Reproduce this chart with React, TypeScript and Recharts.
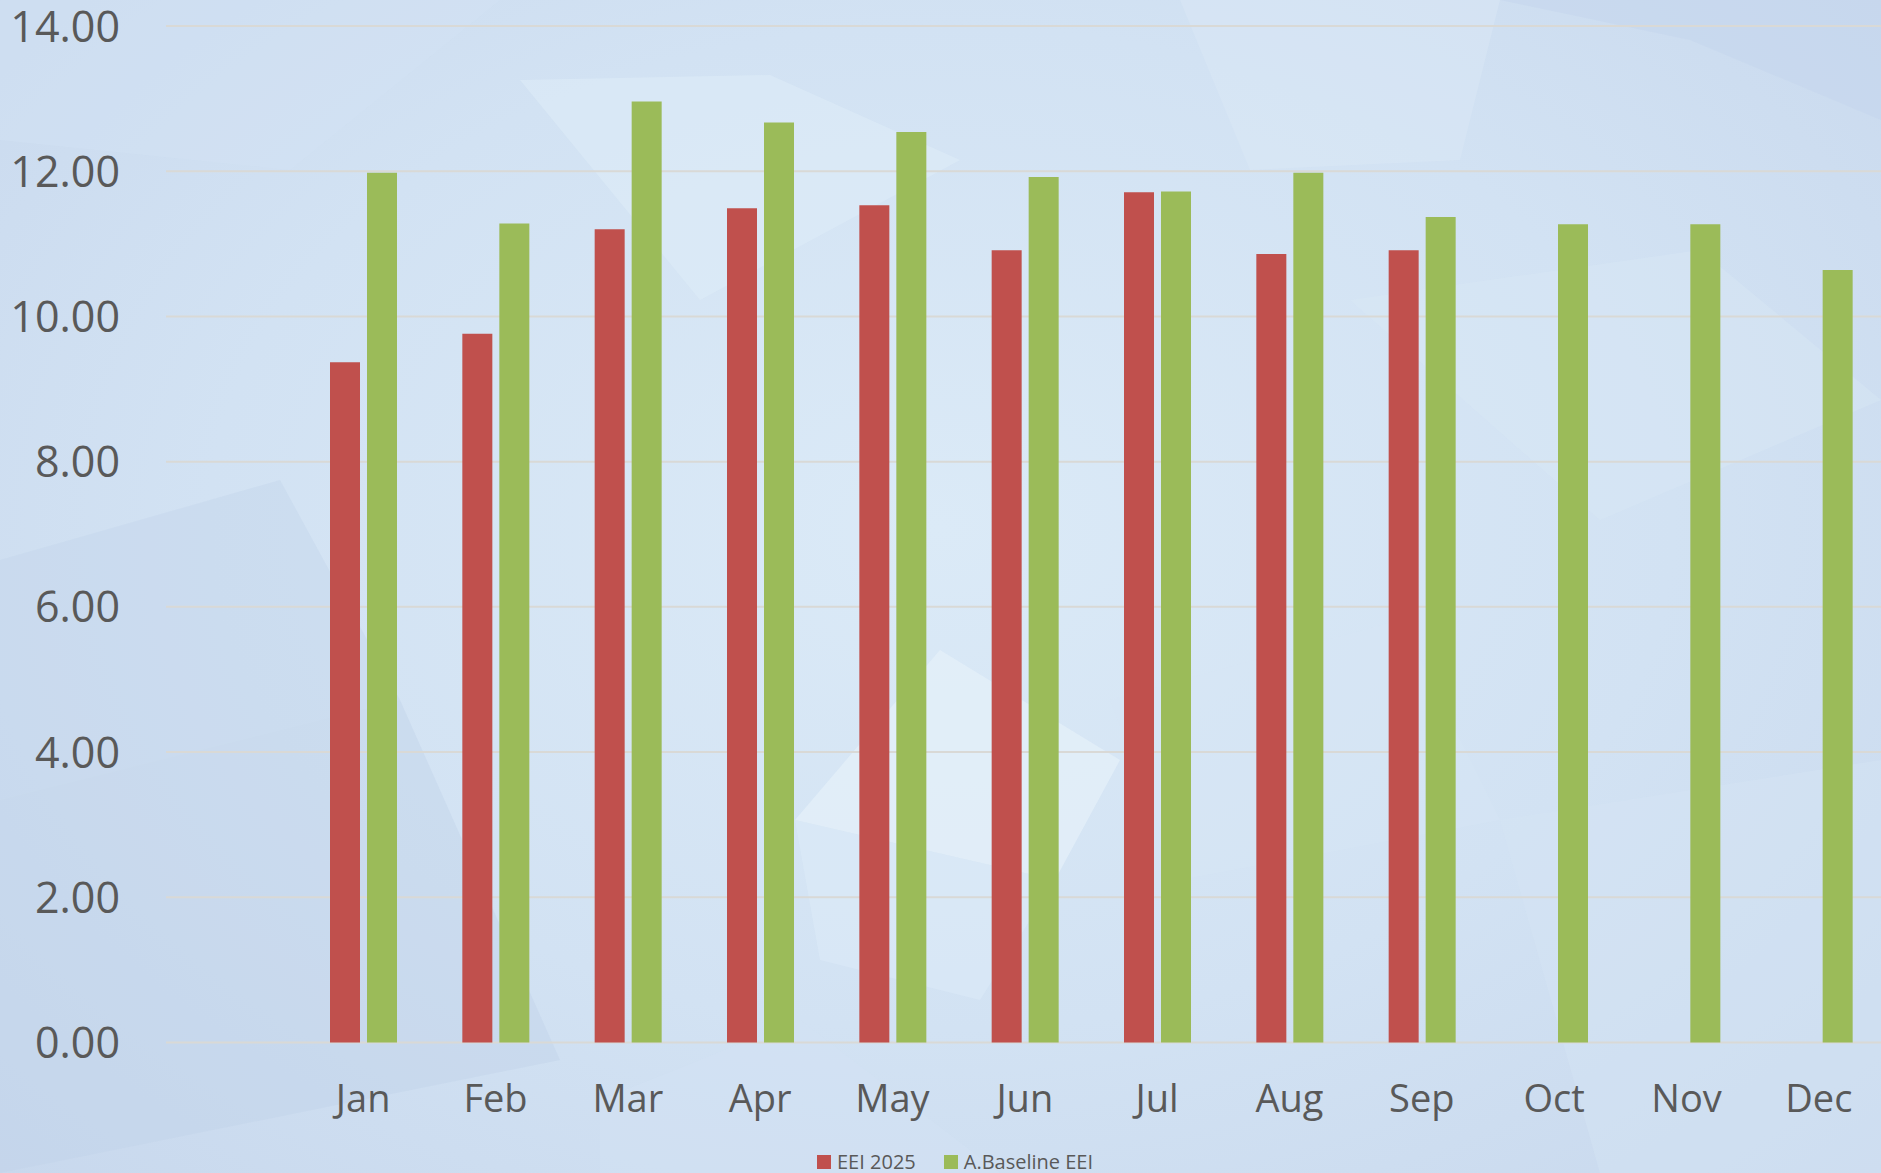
import React from 'react';
import { BarChart, Bar, XAxis, YAxis, CartesianGrid } from 'recharts';

const months = ['Jan', 'Feb', 'Mar', 'Apr', 'May', 'Jun', 'Jul', 'Aug', 'Sep', 'Oct', 'Nov', 'Dec'];
const eei2025: (number | null)[] = [9.37, 9.76, 11.2, 11.49, 11.53, 10.91, 11.71, 10.86, 10.91, null, null, null];
const baselineEei = [11.98, 11.28, 12.96, 12.67, 12.54, 11.92, 11.72, 11.98, 11.37, 11.27, 11.27, 10.64];
const yTicks = [0, 2, 4, 6, 8, 10, 12, 14];
const seriesNames = ['EEI 2025', 'A.Baseline EEI'];
const seriesColors = ['#C0504D', '#9BBB59'];

const data = months.map((m, i) => ({ month: m, eei: eei2025[i], base: baselineEei[i] }));

const TEXT = '#595959';
const FONT = '"Open Sans", "Noto Sans", sans-serif';

const facets: { pts: string; fill: string; op: number }[] = [
  { pts: '0,0 500,0 290,170 0,140', fill: '#d3e3f4', op: 0.45 },
  { pts: '520,80 770,75 960,160 700,300', fill: '#dfecf8', op: 0.55 },
  { pts: '1180,0 1500,0 1460,160 1250,170', fill: '#dbe8f6', op: 0.45 },
  { pts: '1500,0 1881,0 1881,120 1690,40', fill: '#c5d6ec', op: 0.55 },
  { pts: '0,560 280,480 400,700 0,800', fill: '#c4d5ea', op: 0.45 },
  { pts: '0,800 400,700 560,1060 0,1173', fill: '#c2d3e9', op: 0.45 },
  { pts: '795,820 940,650 1120,760 1055,880', fill: '#e6f1fa', op: 0.7 },
  { pts: '795,820 1055,880 980,1000 820,960', fill: '#dcebf7', op: 0.55 },
  { pts: '1110,700 1400,620 1500,820 1180,880', fill: '#d7e6f5', op: 0.4 },
  { pts: '1500,820 1881,760 1881,1173 1600,1173', fill: '#d4e4f4', op: 0.45 },
  { pts: '600,1100 800,1020 1000,1173 600,1173', fill: '#d2e3f4', op: 0.45 },
  { pts: '1350,300 1700,250 1881,400 1600,520', fill: '#d9e8f6', op: 0.4 },
];

const YTick = (props: any) => {
  const { x, y, payload } = props;
  return (
    <text x={x - 46} y={y + 15.5} textAnchor="end" fill={TEXT} fontFamily={FONT} fontSize={43}>
      {Number(payload.value).toFixed(2)}
    </text>
  );
};

const XTick = (props: any) => {
  const { x, y, payload } = props;
  return (
    <text x={x} y={y + 69} textAnchor="middle" fill={TEXT} fontFamily={FONT} fontSize={38}>
      {payload.value}
    </text>
  );
};

export default function App() {
  return (
    <div
      style={{
        position: 'absolute',
        left: 0,
        top: 0,
        width: 1881,
        height: 1173,
        overflow: 'hidden',
        background: 'radial-gradient(ellipse at 50% 45%, #dbeaf7 0%, #d2e2f3 55%, #c8d8ed 100%)',
      }}
    >
      <svg width={1881} height={1173} style={{ position: 'absolute', left: 0, top: 0 }}>
        {facets.map((f, i) => (
          <polygon key={i} points={f.pts} fill={f.fill} opacity={f.op} />
        ))}
      </svg>
      <div style={{ position: 'absolute', left: 0, top: 0 }}>
        <BarChart
          width={1881}
          height={1173}
          data={data}
          margin={{ top: 26, right: -4, bottom: 0, left: 0 }}
          barSize={30}
          barGap={7}
        >
          <CartesianGrid vertical={false} stroke="#d9d9d6" strokeWidth={2} />
          <XAxis
            dataKey="month"
            axisLine={false}
            tickLine={false}
            tickSize={0}
            tickMargin={0}
            height={130.5}
            padding={{ left: 131, right: 0 }}
            tick={<XTick />}
            interval={0}
          />
          <YAxis
            domain={[0, 14]}
            ticks={yTicks}
            axisLine={false}
            tickLine={false}
            tickSize={0}
            tickMargin={0}
            width={166}
            tick={<YTick />}
          />
          <Bar dataKey="eei" name={seriesNames[0]} fill={seriesColors[0]} isAnimationActive={false} />
          <Bar dataKey="base" name={seriesNames[1]} fill={seriesColors[1]} isAnimationActive={false} />
        </BarChart>
      </div>
      <div
        style={{
          position: 'absolute',
          left: 817,
          top: 1151,
          display: 'flex',
          alignItems: 'center',
          fontFamily: FONT,
          fontSize: 20,
          color: TEXT,
          whiteSpace: 'nowrap',
          lineHeight: '21px',
          height: 21,
        }}
      >
        {seriesNames.map((n, i) => (
          <div key={n} style={{ display: 'flex', alignItems: 'center', marginRight: i === 0 ? 28 : 0 }}>
            <span style={{ width: 14, height: 14, background: seriesColors[i], display: 'inline-block', marginRight: 6 }} />
            <span>{n}</span>
          </div>
        ))}
      </div>
    </div>
  );
}
